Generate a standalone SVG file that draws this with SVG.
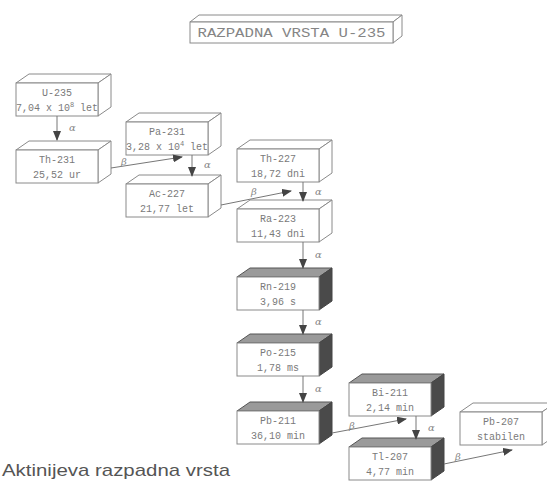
<svg xmlns="http://www.w3.org/2000/svg" width="547" height="481" viewBox="0 0 547 481">
<style>
.f{fill:#fff;stroke:#8a8a8a;stroke-width:1}
.t{fill:#fff;stroke:#8a8a8a;stroke-width:1}
.dt{fill:#9a9a9a;stroke:#555;stroke-width:1}
.ds{fill:#4a4a4a;stroke:#444;stroke-width:1}
.lb{font-family:"Liberation Mono","DejaVu Sans Mono",monospace;font-size:10px;fill:#7a7a7a;text-anchor:middle}
.ttl{font-family:"Liberation Mono","DejaVu Sans Mono",monospace;font-size:13px;fill:#858585;text-anchor:middle}
.c{stroke:#777;stroke-width:1;fill:none}
.g{font-family:"DejaVu Serif","Liberation Serif",serif;font-size:10px;fill:#888;font-style:italic}
.cap{font-family:"Liberation Sans","DejaVu Sans",sans-serif;font-size:17px;fill:#555}
</style>
<defs>
<marker id="ah" markerWidth="10" markerHeight="8" refX="9" refY="4" orient="auto" markerUnits="userSpaceOnUse">
<path d="M0,0 L10,4 L0,8 Z" fill="#444"/>
</marker>
</defs>

<g id="title">
<path class="t" d="M190,22 L199,15 L402,15 L393,22 Z"/>
<path class="t" d="M393,22 L402,15 L402,36 L393,43 Z"/>
<rect class="f" x="190" y="22" width="203" height="21"/>
<text class="ttl" x="291.5" y="37" textLength="188" lengthAdjust="spacingAndGlyphs">RAZPADNA VRSTA U-235</text>
</g>

<g id="u235">
<path class="t" d="M16,83 L29,74 L111,74 L98,83 Z"/>
<path class="t" d="M98,83 L111,74 L111,107 L98,116 Z"/>
<rect class="f" x="16" y="83" width="82" height="33"/>
<text class="lb" x="57" y="96">U-235</text>
<text class="lb" x="57" y="111">7,04 x 10<tspan font-size="7" dy="-4">8</tspan><tspan dy="4"> let</tspan></text>
</g>

<g id="th231">
<path class="t" d="M16,150 L29,141 L111,141 L98,150 Z"/>
<path class="t" d="M98,150 L111,141 L111,174 L98,183 Z"/>
<rect class="f" x="16" y="150" width="82" height="33"/>
<text class="lb" x="57" y="163">Th-231</text>
<text class="lb" x="57" y="178">25,52 ur</text>
</g>

<g id="pa231">
<path class="t" d="M126,122 L139,113 L221,113 L208,122 Z"/>
<path class="t" d="M208,122 L221,113 L221,146 L208,155 Z"/>
<rect class="f" x="126" y="122" width="82" height="33"/>
<text class="lb" x="167" y="135">Pa-231</text>
<text class="lb" x="167" y="150">3,28 x 10<tspan font-size="7" dy="-4">4</tspan><tspan dy="4"> let</tspan></text>
</g>

<g id="ac227">
<path class="t" d="M126,184 L139,175 L221,175 L208,184 Z"/>
<path class="t" d="M208,184 L221,175 L221,208 L208,217 Z"/>
<rect class="f" x="126" y="184" width="82" height="33"/>
<text class="lb" x="167" y="197">Ac-227</text>
<text class="lb" x="167" y="212">21,77 let</text>
</g>

<g id="th227">
<path class="t" d="M237,149 L250,140 L332,140 L319,149 Z"/>
<path class="t" d="M319,149 L332,140 L332,173 L319,182 Z"/>
<rect class="f" x="237" y="149" width="82" height="33"/>
<text class="lb" x="278" y="162">Th-227</text>
<text class="lb" x="278" y="177">18,72 dni</text>
</g>

<g id="ra223">
<path class="t" d="M237,209 L250,200 L332,200 L319,209 Z"/>
<path class="t" d="M319,209 L332,200 L332,233 L319,242 Z"/>
<rect class="f" x="237" y="209" width="82" height="33"/>
<text class="lb" x="278" y="222">Ra-223</text>
<text class="lb" x="278" y="237">11,43 dni</text>
</g>

<g id="rn219">
<path class="dt" d="M237,277 L250,268 L332,268 L319,277 Z"/>
<path class="ds" d="M319,277 L332,268 L332,301 L319,310 Z"/>
<rect class="f" x="237" y="277" width="82" height="33"/>
<text class="lb" x="278" y="290">Rn-219</text>
<text class="lb" x="278" y="305">3,96 s</text>
</g>

<g id="po215">
<path class="dt" d="M237,343 L250,334 L332,334 L319,343 Z"/>
<path class="ds" d="M319,343 L332,334 L332,367 L319,376 Z"/>
<rect class="f" x="237" y="343" width="82" height="33"/>
<text class="lb" x="278" y="356">Po-215</text>
<text class="lb" x="278" y="371">1,78 ms</text>
</g>

<g id="pb211">
<path class="dt" d="M237,411 L250,402 L332,402 L319,411 Z"/>
<path class="ds" d="M319,411 L332,402 L332,435 L319,444 Z"/>
<rect class="f" x="237" y="411" width="82" height="33"/>
<text class="lb" x="278" y="424">Pb-211</text>
<text class="lb" x="278" y="439">36,10 min</text>
</g>

<g id="bi211">
<path class="dt" d="M349,383 L362,374 L444,374 L431,383 Z"/>
<path class="ds" d="M431,383 L444,374 L444,407 L431,416 Z"/>
<rect class="f" x="349" y="383" width="82" height="33"/>
<text class="lb" x="390" y="396">Bi-211</text>
<text class="lb" x="390" y="411">2,14 min</text>
</g>

<g id="tl207">
<path class="dt" d="M349,447 L362,438 L444,438 L431,447 Z"/>
<path class="ds" d="M431,447 L444,438 L444,471 L431,480 Z"/>
<rect class="f" x="349" y="447" width="82" height="33"/>
<text class="lb" x="390" y="460">Tl-207</text>
<text class="lb" x="390" y="475">4,77 min</text>
</g>

<g id="pb207">
<path class="t" d="M460,412 L473,403 L555,403 L542,412 Z"/>
<path class="t" d="M542,412 L555,403 L555,436 L542,445 Z"/>
<rect class="f" x="460" y="412" width="82" height="33"/>
<text class="lb" x="501" y="425">Pb-207</text>
<text class="lb" x="501" y="440">stabilen</text>
</g>

<g id="connectors">
<line class="c" x1="57" y1="116" x2="57" y2="140" marker-end="url(#ah)"/>
<text class="g" x="69" y="131">α</text>
<line class="c" x1="192" y1="155" x2="192" y2="176" marker-end="url(#ah)"/>
<text class="g" x="204" y="168">α</text>
<line class="c" x1="303" y1="182" x2="303" y2="201" marker-end="url(#ah)"/>
<text class="g" x="315" y="195">α</text>
<line class="c" x1="303" y1="242" x2="303" y2="268" marker-end="url(#ah)"/>
<text class="g" x="315" y="258">α</text>
<line class="c" x1="303" y1="310" x2="303" y2="334" marker-end="url(#ah)"/>
<text class="g" x="315" y="325">α</text>
<line class="c" x1="303" y1="376" x2="303" y2="402" marker-end="url(#ah)"/>
<text class="g" x="315" y="392">α</text>
<line class="c" x1="416" y1="416" x2="416" y2="439" marker-end="url(#ah)"/>
<text class="g" x="428" y="431">α</text>

<line class="c" x1="111" y1="168" x2="182" y2="157" marker-end="url(#ah)"/>
<text class="g" x="121" y="165">β</text>
<line class="c" x1="221" y1="205" x2="291" y2="191" marker-end="url(#ah)"/>
<text class="g" x="251" y="195">β</text>
<line class="c" x1="332" y1="433" x2="406" y2="419" marker-end="url(#ah)"/>
<text class="g" x="349" y="429">β</text>
<line class="c" x1="444" y1="464" x2="512" y2="450" marker-end="url(#ah)"/>
<text class="g" x="455" y="460">β</text>
</g>

<text class="cap" x="2" y="476" textLength="228" lengthAdjust="spacingAndGlyphs">Aktinijeva razpadna vrsta</text>
</svg>
